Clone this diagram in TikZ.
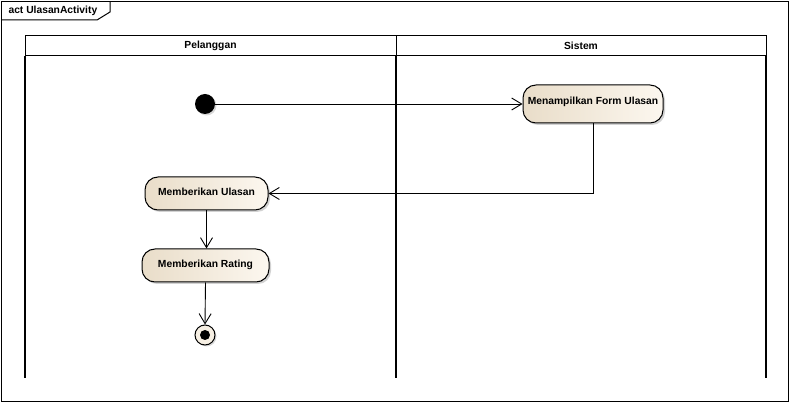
\documentclass[tikz,border=0pt]{standalone}
\usepackage{fontspec}
\setmainfont{Liberation Sans}
\usetikzlibrary{arrows.meta,shadows}

\definecolor{actleft}{HTML}{E9DDC9}
\definecolor{actright}{HTML}{FCF7EF}
\definecolor{finalfill}{HTML}{F6EFE3}

\tikzset{
  lbl/.style={font=\fontsize{10.3}{12}\selectfont\bfseries},
  action/.style={lbl, draw=black, line width=1pt, rounded corners=13pt,
    left color=actleft, right color=actright, inner sep=0pt,
    drop shadow={shadow xshift=2pt, shadow yshift=-2pt, opacity=0.35, fill=gray}},
  flow/.style={draw=black, line width=0.9pt,
    -{Straight Barb[length=10pt, width=12pt, line width=0.9pt]}},
  lane/.style={draw=black, line width=1pt},
}

\begin{document}
\begin{tikzpicture}[x=1pt, y=-1pt]
  \useasboundingbox (0,0) rectangle (790,403);
  \fill[white] (0,0) rectangle (790,403);

  % diagram frame and its name tab
  \draw[line width=1pt] (1.5,1.5) rectangle (788.5,401.5);
  \draw[line width=1pt] (1.5,20) -- (97,20) -- (110,12) -- (110,1.5);
  \node[lbl, anchor=west] (title) at (5,10.5) {act UlasanActivity};

  % swimlanes
  \draw[lane] (25,36) rectangle (766,56);
  \draw[lane] (396,36) -- (396,56);
  \draw[lane, line width=1.4pt] (25,56) -- (25,378);
  \draw[lane, line width=1.4pt] (396,56) -- (396,378);
  \draw[lane, line width=1.4pt] (766,56) -- (766,378);
  \node[lbl] (laneA) at (210.5,45.5) {Pelanggan};
  \node[lbl] (laneB) at (581,45.5) {Sistem};

  % nodes
  \node[circle, fill=black, minimum size=20pt, inner sep=0pt,
    drop shadow={shadow xshift=1.5pt, shadow yshift=-1.5pt, opacity=0.3, fill=gray}]
    (init) at (205,104) {};
  \node[action, minimum width=140pt, minimum height=38pt, text depth=6pt] (form) at (593,104)
    {Menampilkan Form Ulasan};
  \node[action, minimum width=123pt, minimum height=33pt, text depth=4pt] (ulasan) at (206.5,193.5)
    {Memberikan Ulasan};
  \node[action, minimum width=127pt, minimum height=33pt, text depth=4pt] (rating) at (205.5,265.5)
    {Memberikan Rating};
  \node[circle, draw=black, line width=1pt, fill=finalfill, minimum size=20pt, inner sep=0pt,
    drop shadow={shadow xshift=1.5pt, shadow yshift=-1.5pt, opacity=0.3, fill=gray}]
    (final) at (205,335) {};
  \node[circle, fill=black, minimum size=10pt, inner sep=0pt] (finaldot) at (final.center) {};

  % control flows
  \draw[flow] (init.east) -- (form.west);
  \draw[flow] (form.south) |- (ulasan.east);
  \draw[flow] (ulasan.south) -- (ulasan.south |- rating.north);
  \draw[flow] (rating.south) -- (final.north);
\end{tikzpicture}
\end{document}
